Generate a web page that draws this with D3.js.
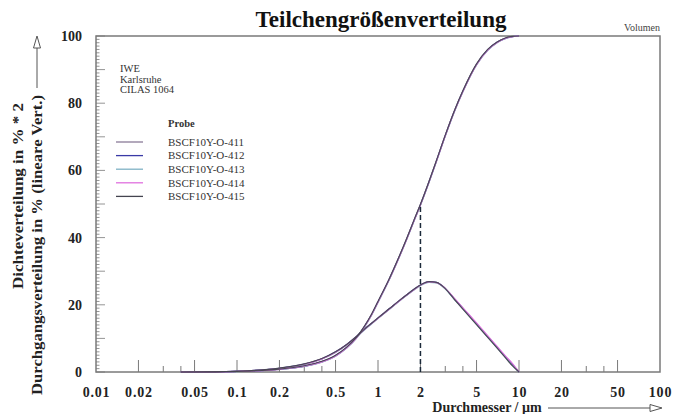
<!DOCTYPE html>
<html><head><meta charset="utf-8">
<script src="https://cdn.jsdelivr.net/npm/d3@7"></script>
<style>body{margin:0;background:#fff}</style>
</head><body><svg id="c" width="681" height="414"></svg>
<script>
// ---------- data ----------
const title = "Teilchengrößenverteilung";
const modeLabel = "Volumen";
const infoLines = ["IWE", "Karlsruhe", "CILAS 1064"];
const legendTitle = "Probe";
const seriesNames = ["BSCF10Y-O-411", "BSCF10Y-O-412", "BSCF10Y-O-413", "BSCF10Y-O-414", "BSCF10Y-O-415"];
const seriesColors = ["#8a7a98", "#3a3aa6", "#7fb2c4", "#e070de", "#44444f"];
const sizes = [0.04, 0.07, 0.1, 0.15, 0.2, 0.3, 0.4, 0.5, 0.6, 0.7, 0.8, 0.9, 1.0, 1.2, 1.4, 1.6, 1.8, 2.0, 2.3, 2.6, 3.0, 3.5, 4.0, 5.0, 6.0, 7.0, 8.0, 9.0, 10.0];
// cumulative (Durchgang) %
const cum411 = [0, 0.03, 0.15, 0.4, 0.8, 1.7, 3.0, 4.8, 7.2, 10.0, 13.4, 17.0, 20.8, 27.5, 33.8, 39.6, 45.0, 49.7, 56.5, 62.8, 70.3, 77.8, 83.5, 91.5, 95.8, 98.1, 99.3, 99.8, 100];
const cum412 = [0, 0.03, 0.16, 0.42, 0.82, 1.75, 3.1, 4.9, 7.3, 10.1, 13.5, 17.1, 20.9, 27.6, 33.9, 39.7, 45.1, 49.8, 56.6, 62.9, 70.4, 77.9, 83.6, 91.6, 95.9, 98.2, 99.3, 99.8, 100];
const cum413 = [0, 0.02, 0.14, 0.38, 0.78, 1.65, 2.9, 4.7, 7.1, 9.9, 13.3, 16.9, 20.7, 27.4, 33.7, 39.5, 44.9, 49.6, 56.4, 62.7, 70.2, 77.7, 83.4, 91.4, 95.7, 98.0, 99.2, 99.8, 100];
const cum414 = [0, 0.03, 0.15, 0.41, 0.81, 1.72, 3.0, 4.8, 7.2, 10.0, 13.4, 17.0, 20.8, 27.5, 33.8, 39.6, 45.0, 49.7, 56.5, 62.8, 70.3, 77.8, 83.5, 91.5, 95.8, 98.1, 99.3, 99.8, 100];
const cum415 = [0, 0.04, 0.18, 0.45, 0.88, 1.85, 3.2, 5.0, 7.4, 10.2, 13.6, 17.2, 21.0, 27.7, 34.0, 39.8, 45.2, 49.9, 56.7, 63.0, 70.5, 78.0, 83.7, 91.7, 96.0, 98.2, 99.4, 99.9, 100];
// density (Dichte) % * 2
const dens411 = [0, 0.05, 0.2, 0.6, 1.1, 2.3, 3.9, 5.9, 8.1, 10.4, 12.6, 14.4, 16.0, 18.7, 21.0, 22.9, 24.5, 25.8, 26.8, 26.6, 24.8, 21.6, 18.9, 14.3, 10.5, 7.3, 4.5, 2.1, 0];
const dens412 = [0, 0.05, 0.21, 0.62, 1.12, 2.35, 3.95, 6.0, 8.2, 10.5, 12.7, 14.5, 16.1, 18.8, 21.1, 23.0, 24.6, 25.9, 26.9, 26.7, 24.9, 21.7, 19.0, 14.4, 10.6, 7.4, 4.6, 2.3, 0];
const dens413 = [0, 0.04, 0.19, 0.58, 1.08, 2.25, 3.85, 5.8, 8.0, 10.3, 12.5, 14.3, 15.9, 18.6, 20.9, 22.8, 24.4, 25.7, 26.7, 26.5, 24.7, 21.5, 18.8, 14.2, 10.4, 7.2, 4.4, 1.9, 0];
const dens414 = [0, 0.05, 0.2, 0.6, 1.1, 2.3, 3.9, 5.9, 8.1, 10.4, 12.6, 14.4, 16.0, 18.7, 21.0, 22.9, 24.5, 25.8, 26.8, 26.6, 24.9, 21.8, 19.1, 14.6, 10.8, 7.6, 4.8, 2.5, 0];
const dens415 = [0, 0.06, 0.23, 0.65, 1.18, 2.4, 4.0, 6.0, 8.2, 10.5, 12.7, 14.5, 16.1, 18.8, 21.1, 23.0, 24.6, 25.9, 26.9, 26.7, 24.8, 21.5, 18.7, 14.1, 10.3, 7.1, 4.3, 1.8, 0];
const cumSeries = [cum411, cum412, cum413, cum414, cum415];
const densSeries = [dens411, dens412, dens413, dens414, dens415];
const xTickValues = [0.01, 0.02, 0.05, 0.1, 0.2, 0.5, 1, 2, 5, 10, 20, 50, 100];
const xTickLabels = ["0.01", "0.02", "0.05", "0.1", "0.2", "0.5", "1", "2", "5", "10", "20", "50", "100"];
const xMinorValues = [0.03, 0.04, 0.3, 0.4, 3, 4, 30, 40];
const yTickValues = [0, 20, 40, 60, 80, 100];
const medianSize = 2.0;
const xTitle = "Durchmesser / µm";
const yTitle1 = "Dichteverteilung in % * 2";
const yTitle2 = "Durchgangsverteilung in % (lineare Vert.)";

// ---------- layout ----------
const L = 96, R = 660, T = 36, B = 372;
const svg = d3.select("#c");
const x = d3.scaleLog().domain([0.01, 100]).range([L, R]);
const y = d3.scaleLinear().domain([0, 100]).range([B, T]);
const serif = "'Liberation Serif','Times New Roman',serif";
const ink = "#222";
const frame = "#7a7a7a";

// title
svg.append("text").attr("x", 381).attr("y", 27).attr("text-anchor", "middle")
  .attr("font-family", serif).attr("font-weight", "bold").attr("font-size", 23).attr("fill", "#111").text(title);
svg.append("text").attr("x", 660).attr("y", 31).attr("text-anchor", "end")
  .attr("font-family", serif).attr("font-size", 10).attr("fill", "#444").text(modeLabel);

// frame
svg.append("rect").attr("x", L).attr("y", T).attr("width", R - L).attr("height", B - T)
  .attr("fill", "none").attr("stroke", frame).attr("stroke-width", 1.5);

// y ticks (inside, left)
const yMinor = d3.range(0, 101, 1);
svg.append("g").selectAll("line").data(yMinor).join("line")
  .attr("x1", L).attr("x2", d => L + (d % 10 === 0 ? 9 : 3.5))
  .attr("y1", d => y(d)).attr("y2", d => y(d))
  .attr("stroke", frame).attr("stroke-width", 0.8);
// y tick labels
const yAxis = d3.axisLeft(y).tickValues(yTickValues).tickSize(0).tickPadding(14);
const gy = svg.append("g").attr("transform", `translate(${L},0)`).call(yAxis);
gy.select(".domain").remove();
gy.selectAll("text").attr("font-family", serif).attr("font-weight", "bold").attr("font-size", 14).attr("fill", ink);

// x ticks (inside, bottom)
svg.append("g").selectAll("line").data(xTickValues.slice(1, -1)).join("line")
  .attr("x1", d => x(d)).attr("x2", d => x(d)).attr("y1", B).attr("y2", B - 12)
  .attr("stroke", frame).attr("stroke-width", 1);
svg.append("g").selectAll("line").data(xMinorValues).join("line")
  .attr("x1", d => x(d)).attr("x2", d => x(d)).attr("y1", B).attr("y2", B - 6)
  .attr("stroke", frame).attr("stroke-width", 1);
const xAxis = d3.axisBottom(x).tickValues(xTickValues).tickSize(0).tickPadding(15)
  .tickFormat((d, i) => xTickLabels[i]);
const gx = svg.append("g").attr("transform", `translate(0,${B})`).call(xAxis);
gx.select(".domain").remove();
gx.selectAll("text").attr("font-family", serif).attr("font-weight", "bold").attr("font-size", 14)
  .attr("fill", ink).attr("letter-spacing", 0.8);

// axis titles
svg.append("text").attr("x", 487).attr("y", 412).attr("text-anchor", "middle")
  .attr("font-family", serif).attr("font-weight", "bold").attr("font-size", 14).attr("fill", ink).text(xTitle);
svg.append("line").attr("x1", 548).attr("x2", 652).attr("y1", 408).attr("y2", 408).attr("stroke", "#555");
svg.append("path").attr("d", "M650,404.5 L662,408 L650,411.5 Z").attr("fill", "#fff").attr("stroke", "#555");

svg.append("text").attr("transform", "translate(23,196) rotate(-90)").attr("text-anchor", "middle")
  .attr("font-family", serif).attr("font-weight", "bold").attr("font-size", 14).attr("fill", ink)
  .attr("textLength", 186).attr("lengthAdjust", "spacingAndGlyphs").text(yTitle1);
svg.append("text").attr("transform", "translate(42,395) rotate(-90)").attr("text-anchor", "start")
  .attr("font-family", serif).attr("font-weight", "bold").attr("font-size", 14).attr("fill", ink)
  .attr("textLength", 300).attr("lengthAdjust", "spacingAndGlyphs").text(yTitle2);
svg.append("line").attr("x1", 37).attr("x2", 37).attr("y1", 88).attr("y2", 46).attr("stroke", "#555");
svg.append("path").attr("d", "M33.5,48 L37,36 L40.5,48 Z").attr("fill", "#fff").attr("stroke", "#555");

// info text
svg.append("g").selectAll("text").data(infoLines).join("text")
  .attr("x", 120).attr("y", (d, i) => 72 + i * 10.5)
  .attr("font-family", serif).attr("font-size", 10.5).attr("fill", "#333").text(d => d);

// legend
svg.append("text").attr("x", 168).attr("y", 127).attr("font-family", serif).attr("font-weight", "bold")
  .attr("font-size", 10.5).attr("fill", "#333").text(legendTitle);
const lg = svg.append("g").selectAll("g").data(seriesNames).join("g")
  .attr("transform", (d, i) => `translate(0,${142 + i * 13.6})`);
lg.append("line").attr("x1", 116).attr("x2", 143).attr("y1", 0).attr("y2", 0)
  .attr("stroke", (d, i) => seriesColors[i]).attr("stroke-width", 1.3);
lg.append("text").attr("x", 168).attr("y", 3.8).attr("font-family", serif).attr("font-size", 11)
  .attr("fill", "#333").text(d => d);

// curves
const line = d3.line().x(d => x(d[0])).y(d => y(d[1])).curve(d3.curveMonotoneX);
const curves = svg.append("g");
seriesNames.forEach((name, i) => {
  const c = sizes.map((s, k) => [s, cumSeries[i][k]]);
  const q = sizes.map((s, k) => [s, densSeries[i][k]]);
  [c, q].forEach(pts => curves.append("path").attr("d", line(pts)).attr("fill", "none")
    .attr("stroke", seriesColors[i]).attr("stroke-width", 1.2).attr("stroke-opacity", 0.95));
});

// median dashed line
const medianVal = d3.mean(cumSeries, s => s[sizes.indexOf(medianSize)]);
svg.append("line").attr("x1", x(medianSize)).attr("x2", x(medianSize))
  .attr("y1", y(0)).attr("y2", y(medianVal))
  .attr("stroke", "#1c2a3a").attr("stroke-width", 1.5).attr("stroke-dasharray", "5,3");
</script></body></html>
